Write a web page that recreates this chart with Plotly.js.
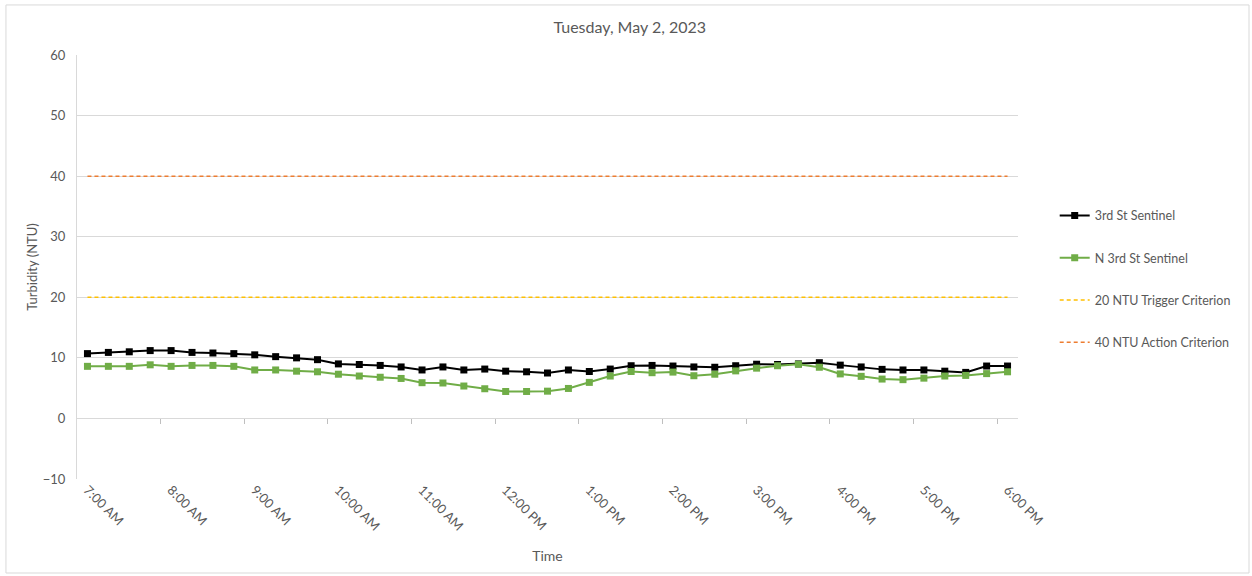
<!DOCTYPE html>
<html>
<head>
<meta charset="utf-8">
<script src="https://cdn.plot.ly/plotly-3.0.1.min.js"></script>
<style>html,body{margin:0;padding:0;background:#fff;}#chart{width:1252px;height:576px;}</style>
</head>
<body>
<div id="chart"></div>
<script>
const categories = [
  "7:00 AM","7:15 AM","7:30 AM","7:45 AM","8:00 AM","8:15 AM","8:30 AM","8:45 AM",
  "9:00 AM","9:15 AM","9:30 AM","9:45 AM","10:00 AM","10:15 AM","10:30 AM","10:45 AM",
  "11:00 AM","11:15 AM","11:30 AM","11:45 AM","12:00 PM","12:15 PM","12:30 PM","12:45 PM",
  "1:00 PM","1:15 PM","1:30 PM","1:45 PM","2:00 PM","2:15 PM","2:30 PM","2:45 PM",
  "3:00 PM","3:15 PM","3:30 PM","3:45 PM","4:00 PM","4:15 PM","4:30 PM","4:45 PM",
  "5:00 PM","5:15 PM","5:30 PM","5:45 PM","6:00 PM"
];
const tickLabels = ["7:00 AM","8:00 AM","9:00 AM","10:00 AM","11:00 AM","12:00 PM",
  "1:00 PM","2:00 PM","3:00 PM","4:00 PM","5:00 PM","6:00 PM"];
const thirdSt = [
  10.7,10.9,11.0,11.2,11.2,10.9,10.8,10.7,10.5,10.2,10.0,9.7,9.0,
  8.9,8.75,8.5,8.0,8.5,8.0,8.15,7.8,7.7,7.5,8.0,7.75,8.15,
  8.7,8.75,8.65,8.5,8.45,8.7,8.95,8.9,9.0,9.2,8.8,8.5,8.1,
  8.0,8.0,7.8,7.6,8.65,8.65
];
const nThirdSt = [
  8.6,8.6,8.6,8.85,8.6,8.75,8.75,8.6,8.0,8.0,7.8,7.7,7.3,
  7.0,6.8,6.6,5.9,5.85,5.35,4.9,4.45,4.45,4.5,4.95,5.95,7.0,
  7.75,7.55,7.65,7.05,7.3,7.85,8.3,8.7,8.95,8.45,7.35,6.95,6.5,
  6.4,6.65,7.0,7.1,7.4,7.7
];
const triggerLevel = 20;
const actionLevel = 40;
const yTicks = [-10,0,10,20,30,40,50,60];

const FONT = "Lato, 'Open Sans', sans-serif";
const TXT = "#595959";
const n = categories.length;
const boundaries = [];
for (let i = 4; i < n; i += 4) boundaries.push(i - 0.5);

const traces = [
  {x: categories, y: thirdSt, name: "3rd St Sentinel", type: "scatter", mode: "lines+markers",
   line: {color: "#000000", width: 2}, marker: {symbol: "square", size: 7, color: "#000000"}, legendgroup: "a"},
  {x: categories, y: nThirdSt, name: "N 3rd St Sentinel", type: "scatter", mode: "lines+markers",
   line: {color: "#70AD47", width: 2}, marker: {symbol: "square", size: 7, color: "#70AD47"}, legendgroup: "b"},
  {x: categories, y: categories.map(() => triggerLevel), name: "20 NTU Trigger Criterion", type: "scatter", mode: "lines",
   line: {color: "#FFC000", width: 1.5, dash: "4px,3px"}, legendgroup: "c"},
  {x: categories, y: categories.map(() => actionLevel), name: "40 NTU Action Criterion", type: "scatter", mode: "lines",
   line: {color: "#ED7D31", width: 1.5, dash: "4px,3px"}, legendgroup: "d"},
  // carrier trace so the boundary tick axis (xaxis2) is drawn
  {x: boundaries, y: boundaries.map(() => null), xaxis: "x2", yaxis: "y", type: "scatter", mode: "lines",
   showlegend: false, hoverinfo: "skip", line: {color: "rgba(0,0,0,0)"}}
];

const layout = {
  width: 1252, height: 576,
  margin: {l: 77, r: 234, t: 55, b: 97},
  paper_bgcolor: "#ffffff", plot_bgcolor: "#ffffff",
  font: {family: FONT, color: TXT, size: 12},
  title: {text: "Tuesday, May 2, 2023", font: {size: 16, color: TXT, family: FONT}, x: 0.503, xanchor: "center", y: 0.953, yanchor: "middle"},
  showlegend: true,
  legend: {x: 1.039, xanchor: "left", y: 0.472, yanchor: "middle", font: {size: 12.5, color: TXT},
           tracegroupgap: 23, itemwidth: 30, traceorder: "grouped", bgcolor: "rgba(0,0,0,0)"},
  xaxis: {type: "category", range: [-0.5, n - 0.5], tickvals: tickLabels, ticktext: tickLabels,
          tickangle: 45, ticks: "", showgrid: false, zeroline: false, showline: false,
          tickfont: {size: 13, color: TXT}, automargin: false,
          title: {text: "Time", font: {size: 14, color: TXT}, standoff: 18}},
  xaxis2: {type: "linear", overlaying: "x", anchor: "free", position: 10 / 70, range: [-0.5, n - 0.5],
           tickvals: boundaries, showticklabels: false, ticks: "outside", ticklen: 5, tickcolor: "#bfbfbf",
           showgrid: false, zeroline: false, showline: false},
  yaxis: {range: [-10, 60], tickvals: yTicks, ticks: "", showgrid: true, gridcolor: "#d9d9d9", gridwidth: 1,
          zeroline: false, showline: true, linecolor: "#d9d9d9", linewidth: 1, ticklabelstandoff: 8,
          tickfont: {size: 13, color: TXT}, automargin: false,
          title: {text: "Turbidity (NTU)", font: {size: 13, color: TXT}, standoff: 2}},
  shapes: [
    {type: "rect", xref: "paper", yref: "paper", x0: -0.0755, x1: 1.2455, y0: -0.2217, y1: 1.118,
     line: {color: "#d9d9d9", width: 1}, fillcolor: "rgba(0,0,0,0)", layer: "below"}
  ]
};

Plotly.newPlot("chart", traces, layout, {displayModeBar: false, staticPlot: true});
</script>
</body>
</html>
